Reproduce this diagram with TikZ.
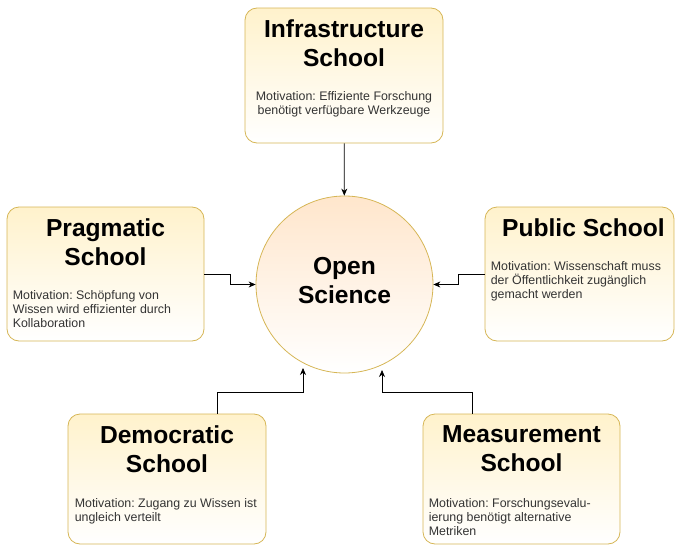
\documentclass[tikz,border=0pt]{standalone}
\usepackage{fontspec}
\setmainfont{Liberation Sans}
\usetikzlibrary{positioning,arrows.meta}
\definecolor{schoolfill}{HTML}{FFF2CC}
\definecolor{schoolline}{HTML}{D6B656}
\definecolor{sciencefill}{HTML}{FFE6CC}
\definecolor{motivtext}{HTML}{333333}
\frenchspacing

\begin{document}
\begin{tikzpicture}[x=1pt,y=-1pt]
    \tikzset{
        school/.style args={#1 by #2}{draw=schoolline, line width=0.8pt, rounded corners=12pt,
            top color=schoolfill, bottom color=white, minimum width=#1, minimum height=#2, inner sep=0pt},
        title/.style={font=\fontsize{24.6}{29}\selectfont\bfseries, align=center, inner sep=0pt},
        motiv/.style={font=\fontsize{12.4}{14}\selectfont, text=motivtext, align=left, inner sep=0pt},
        flow/.style={-{Stealth[length=7pt,width=6pt]}, line width=0.7pt},}
    \useasboundingbox (0,0) rectangle (675,546);
    % schools
    \node[school=198pt by 135pt] (infra) at (344,75.5) {};
    \node[school=197pt by 134pt] (prag) at (105.5,274) {};
    \node[school=189pt by 134pt] (pub) at (579.5,274) {};
    \node[school=198pt by 130pt] (demo) at (167,479) {};
    \node[school=197pt by 130pt] (meas) at (521.5,479) {};
    \node[draw=schoolline, line width=0.8pt, circle, minimum size=177pt, inner sep=0pt,
        top color=sciencefill, bottom color=white] (circ) at (344.5,284.5) {};
    \node[title] (circtext) at ([yshift=4pt]circ.center) {Open\\Science};
    % titles
    \node[title, below=12pt of infra.north] (infratitle) {Infrastructure\\School};
    \node[title, below=12pt of prag.north] (pragtitle) {Pragmatic\\School};
    \node[title, below=12pt of pub.north, xshift=4pt] (pubtitle) {Public School};
    \node[title, below=12pt of demo.north] (demotitle) {Democratic\\School};
    \node[title, below=12pt of meas.north] (meastitle) {Measurement\\School};
    % motivations
    \node[motiv, align=center, below=83.3pt of infra.north] (infratext)
        {Motivation: Effiziente Forschung\\benötigt verfügbare Werkzeuge};
    \node[motiv, below right=83.3pt and 6pt of prag.north west] (pragtext)
        {Motivation: Schöpfung von\\Wissen wird effizienter durch\\Kollaboration};
    \node[motiv, below right=54.3pt and 6pt of pub.north west] (pubtext)
        {Motivation: Wissenschaft muss\\der Öffentlichkeit zugänglich\\gemacht werden};
    \node[motiv, below right=84.3pt and 7pt of demo.north west] (demotext)
        {Motivation: Zugang zu Wissen ist\\ungleich verteilt};
    \node[motiv, below right=84.3pt and 6pt of meas.north west] (meastext)
        {Motivation: Forschungsevalu-\\ierung benötigt alternative\\Metriken};
    % connectors
    \coordinate (demoend) at (303,368);
    \coordinate (measend) at (382,370);
    \draw[flow] (infra) -- (circ);
    \draw[flow] (prag.east) -- ++(26,0) |- (circ.west);
    \draw[flow] (pub.west) -- ++(-26,0) |- (circ.east);
    \draw[flow] ([xshift=50pt]demo.north) -- ++(0,-21) -| (demoend);
    \draw[flow] ([xshift=-49.5pt]meas.north) -- ++(0,-21) -| (measend);
\end{tikzpicture}
\end{document}
